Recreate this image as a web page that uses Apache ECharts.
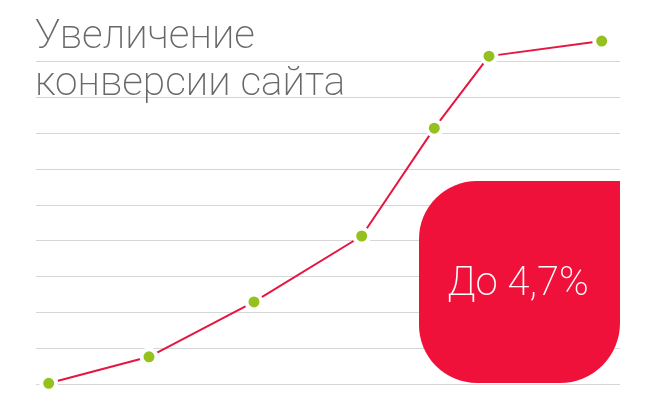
<!DOCTYPE html>
<html>
<head>
<meta charset="utf-8">
<script src="https://cdn.jsdelivr.net/npm/echarts@6/dist/echarts.min.js"></script>
<style>
  html, body { margin: 0; padding: 0; background: #fff; }
  #chart { width: 656px; height: 411px; }
</style>
</head>
<body>
<div id="chart"></div>
<script>
    // значения
    var xValues = [12.7, 113, 218, 325.7, 398.3, 453, 565.7];
    var yValues = [0.02, 0.76, 2.29, 4.13, 7.14, 9.15, 9.57];
    var titleText = 'Увеличение\nконверсии сайта';
    var badgeText = 'До 4,7%';

    var points = [];
    for (var i = 0; i < xValues.length; i++) {
        points.push([xValues[i], yValues[i]]);
    }

    var chart = echarts.init(document.getElementById('chart'));

    var options = {
        backgroundColor: '#fff',
        animation: false,
        title: {
            text: titleText,
            left: 35,
            top: 14,
            padding: 0,
            textStyle: {
                fontFamily: 'Roboto',
                fontWeight: 200,
                fontSize: 40.5,
                lineHeight: 47,
                color: '#686868'
            }
        },
        grid: {
            left: 36,
            right: 36,
            top: 61.5,
            bottom: 27
        },
        xAxis: {
            type: 'value',
            min: 0,
            max: 584,
            show: false
        },
        yAxis: {
            type: 'value',
            min: 0,
            max: 9,
            interval: 1,
            axisLine: { show: false },
            axisTick: { show: false },
            axisLabel: { show: false },
            splitLine: {
                lineStyle: { color: '#d6d6d6', width: 1 }
            }
        },
        series: [{
            type: 'line',
            data: points,
            clip: false,
            symbol: 'circle',
            symbolSize: 15,
            lineStyle: { color: '#e5163f', width: 2 },
            itemStyle: {
                color: '#95c11f',
                borderColor: '#fff',
                borderWidth: 4
            },
            z: 3
        }],
        graphic: [{
            type: 'rect',
            z: 100,
            shape: { x: 419, y: 181, width: 201, height: 202, r: [58, 0, 60, 58] },
            style: { fill: '#f0113b' }
        }, {
            type: 'text',
            z: 101,
            x: 518,
            y: 285,
            style: {
                text: badgeText,
                fill: '#fff',
                fontFamily: 'Roboto',
                fontWeight: 200,
                fontSize: 40,
                align: 'center',
                verticalAlign: 'middle'
            }
        }]
    };

    chart.setOption(options);
</script>
</body>
</html>
